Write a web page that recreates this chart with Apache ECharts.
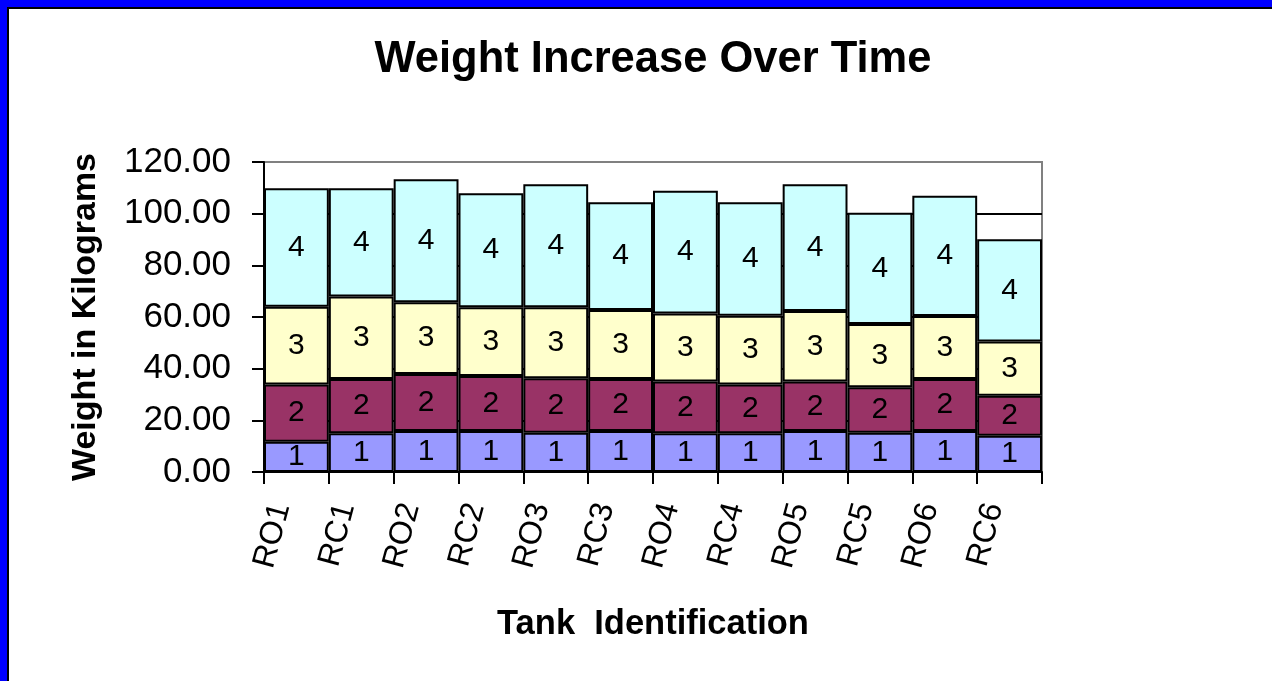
<!DOCTYPE html>
<html>
<head>
<meta charset="utf-8">
<script src="https://cdn.jsdelivr.net/npm/echarts@6/dist/echarts.min.js"></script>
<style>
html,body{margin:0;padding:0;background:#fff;}
#chart{width:1272px;height:681px;}
</style>
</head>
<body>
<div id="chart"></div>
<script>
const categories = ['RO1','RC1','RO2','RC2','RO3','RC3','RO4','RC4','RO5','RC5','RO6','RC6'];
const seriesNames = ['1','2','3','4'];
const series1 = [11.7, 15.0, 15.9, 15.9, 15.2, 15.9, 15.0, 15.0, 15.9, 15.2, 15.9, 14.0];
const series2 = [22.2, 21.0, 22.0, 21.3, 21.1, 20.1, 20.0, 18.9, 19.1, 17.6, 20.1, 15.5];
const series3 = [30.1, 31.9, 27.8, 26.6, 27.5, 26.7, 26.4, 26.6, 27.3, 24.5, 24.4, 21.0];
const series4 = [45.8, 41.9, 47.6, 44.1, 47.6, 41.7, 47.5, 43.9, 49.1, 43.1, 46.5, 39.6];
const yTicks = [0, 20, 40, 60, 80, 100, 120];
const colors = ['#9999FF', '#993366', '#FFFFCC', '#CCFFFF'];

const FONT = 'Liberation Sans, Arial, sans-serif';
const chart = echarts.init(document.getElementById('chart'));
const allData = [series1, series2, series3, series4];

chart.setOption({
  animation: false,
  backgroundColor: '#fff',
  title: {
    text: 'Weight Increase Over Time',
    left: 648, top: 33, textAlign: 'center',
    textStyle: {fontFamily: FONT, fontSize: 43.5, fontWeight: 'bold', color: '#000'}
  },
  graphic: [
    {type: 'rect', shape: {x: 0, y: 0, width: 1272, height: 7}, style: {fill: '#0000FF'}, silent: true},
    {type: 'rect', shape: {x: 0, y: 0, width: 7, height: 681}, style: {fill: '#0000FF'}, silent: true},
    {type: 'rect', shape: {x: 7, y: 7, width: 1265, height: 2}, style: {fill: '#000'}, silent: true},
    {type: 'rect', shape: {x: 7, y: 7, width: 2, height: 674}, style: {fill: '#000'}, silent: true}
  ],
  grid: {left: 264, right: 230, top: 162, bottom: 209, show: true, borderColor: '#808080', borderWidth: 2, backgroundColor: 'transparent'},
  xAxis: {
    type: 'category',
    data: categories,
    boundaryGap: true,
    name: 'Tank  Identification',
    nameLocation: 'middle',
    nameGap: 135,
    nameTextStyle: {fontFamily: FONT, fontSize: 34.5, fontWeight: 'bold', color: '#000'},
    axisLine: {show: true, lineStyle: {color: '#000', width: 2}},
    axisTick: {show: true, interval: 0, length: 12, lineStyle: {color: '#000', width: 2}},
    axisLabel: {interval: 0, rotate: 75, margin: 36, verticalAlign: 'bottom', fontFamily: FONT, fontSize: 32, color: '#000'}
  },
  yAxis: {
    type: 'value',
    min: yTicks[0], max: yTicks[yTicks.length - 1], interval: 20,
    name: 'Weight in Kilograms',
    nameLocation: 'middle',
    nameGap: 161,
    nameTextStyle: {fontFamily: FONT, fontSize: 34, fontWeight: 'bold', color: '#000'},
    axisLine: {show: true, lineStyle: {color: '#000', width: 2}},
    axisTick: {show: true, length: 12, lineStyle: {color: '#000', width: 2}},
    axisLabel: {margin: 33, fontFamily: FONT, fontSize: 35, color: '#000', formatter: v => v.toFixed(2)},
    splitLine: {show: true, lineStyle: {color: ['#000','#000','#000','#000','#000','#000','#808080'], width: 2}}
  },
  series: allData.map((d, i) => ({
    name: seriesNames[i],
    type: 'bar',
    stack: 'total',
    data: d,
    barCategoryGap: '0%',
    itemStyle: {color: colors[i], borderColor: '#000', borderWidth: 2},
    label: {show: true, position: 'inside', formatter: '{a}', fontFamily: FONT, fontSize: 30, color: '#000'}
  }))
});
</script>
</body>
</html>
